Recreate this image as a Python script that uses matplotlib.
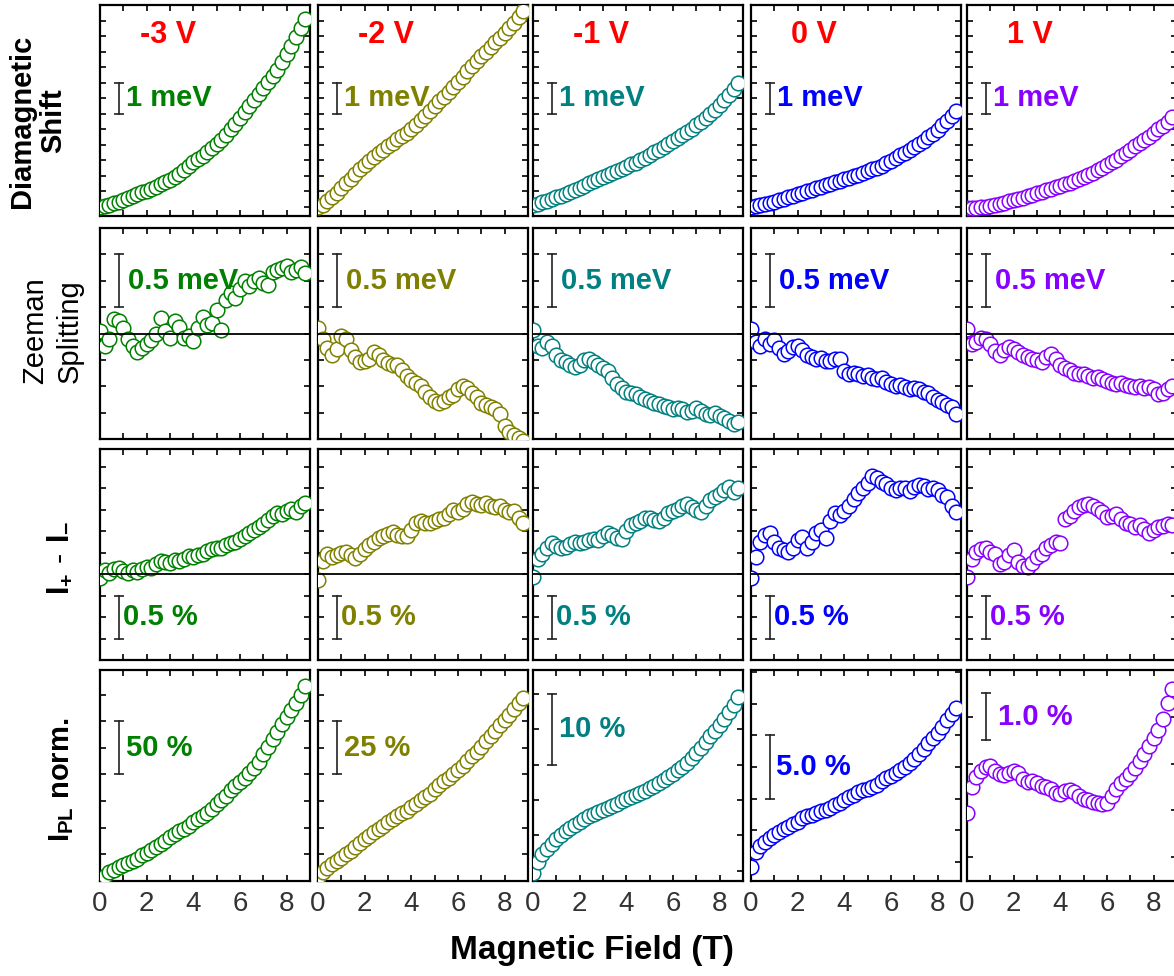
import matplotlib.pyplot as plt
from matplotlib.ticker import MultipleLocator

plt.rcParams['font.family'] = ['Liberation Sans', 'DejaVu Sans']
plt.rcParams['mathtext.fontset'] = 'custom'
plt.rcParams['mathtext.rm'] = 'Liberation Sans'
plt.rcParams['mathtext.bf'] = 'Liberation Sans:bold'

# gate voltages (one column each) and their colours
voltages = ['-3 V', '-2 V', '-1 V', '0 V', '1 V']
colors = ['#008000', '#808000', '#008080', '#0000ff', '#8800ff']

# magnetic field sweep (T)
field = [0.0, 0.2, 0.4, 0.6, 0.8, 1.0, 1.2, 1.4, 1.6, 1.8, 2.0, 2.2, 2.4, 2.6, 2.8,
         3.0, 3.2, 3.4, 3.6, 3.8, 4.0, 4.2, 4.4, 4.6, 4.8, 5.0, 5.2, 5.4, 5.6, 5.8,
         6.0, 6.2, 6.4, 6.6, 6.8, 7.0, 7.2, 7.4, 7.6, 7.8, 8.0, 8.2, 8.4, 8.6, 8.8]

# diamagnetic shift (meV)
dia_m3 = [0.00, 0.03, 0.07, 0.11, 0.16, 0.22, 0.28, 0.34, 0.40, 0.46, 0.52, 0.58, 0.65, 0.72, 0.79,
          0.86, 0.95, 1.05, 1.18, 1.30, 1.43, 1.53, 1.64, 1.76, 1.88, 2.01, 2.15, 2.32, 2.50, 2.68,
          2.86, 3.05, 3.25, 3.45, 3.64, 3.83, 4.02, 4.21, 4.42, 4.66, 4.92, 5.18, 5.46, 5.75, 6.05]
dia_m2 = [0.00, 0.05, 0.18, 0.30, 0.45, 0.60, 0.75, 0.90, 1.05, 1.20, 1.33, 1.46, 1.59, 1.72, 1.84,
          1.95, 2.06, 2.17, 2.28, 2.39, 2.50, 2.64, 2.78, 2.93, 3.10, 3.25, 3.40, 3.55, 3.70, 3.86,
          4.02, 4.19, 4.37, 4.54, 4.70, 4.85, 5.00, 5.15, 5.30, 5.45, 5.60, 5.75, 5.92, 6.12, 6.32]
dia_m1 = [0.05, 0.10, 0.14, 0.19, 0.24, 0.30, 0.36, 0.42, 0.48, 0.55, 0.61, 0.68, 0.75, 0.82, 0.89,
          0.95, 1.01, 1.08, 1.15, 1.22, 1.29, 1.36, 1.42, 1.49, 1.57, 1.66, 1.75, 1.84, 1.93, 2.02,
          2.12, 2.21, 2.30, 2.40, 2.51, 2.62, 2.74, 2.86, 2.99, 3.13, 3.28, 3.44, 3.61, 3.80, 4.00]
dia_0 = [0.00, 0.02, 0.05, 0.08, 0.11, 0.16, 0.20, 0.25, 0.30, 0.35, 0.40, 0.45, 0.50, 0.55, 0.60,
         0.65, 0.69, 0.74, 0.79, 0.84, 0.88, 0.93, 0.98, 1.03, 1.08, 1.14, 1.20, 1.26, 1.32, 1.40,
         1.48, 1.56, 1.65, 1.74, 1.83, 1.92, 2.02, 2.12, 2.23, 2.35, 2.48, 2.62, 2.77, 2.93, 3.10]
dia_p1 = [-0.05, -0.04, -0.03, -0.02, 0.00, 0.02, 0.05, 0.09, 0.13, 0.17, 0.21, 0.25, 0.29, 0.33, 0.38,
          0.43, 0.48, 0.53, 0.57, 0.62, 0.67, 0.72, 0.77, 0.82, 0.88, 0.95, 1.02, 1.10, 1.18, 1.26,
          1.34, 1.43, 1.52, 1.62, 1.72, 1.83, 1.94, 2.05, 2.16, 2.26, 2.37, 2.49, 2.61, 2.74, 2.88]

# Zeeman splitting (meV)
zee_m3 = [0.02, -0.12, -0.05, 0.14, 0.12, 0.05, -0.05, -0.12, -0.18, -0.14, -0.10, -0.06, 0.00, 0.15, 0.02,
          -0.04, 0.12, 0.06, -0.04, -0.02, -0.07, 0.05, 0.16, 0.08, 0.10, 0.22, 0.03, 0.32, 0.38, 0.34,
          0.42, 0.50, 0.45, 0.50, 0.53, 0.48, 0.46, 0.58, 0.60, 0.62, 0.64, 0.58, 0.60, 0.63, 0.57]
zee_m2 = [0.05, -0.05, -0.14, -0.20, -0.15, -0.02, -0.05, -0.16, -0.22, -0.27, -0.26, -0.24, -0.18, -0.20, -0.25,
          -0.28, -0.30, -0.30, -0.35, -0.40, -0.44, -0.47, -0.50, -0.55, -0.60, -0.64, -0.66, -0.64, -0.60, -0.58,
          -0.53, -0.50, -0.52, -0.56, -0.60, -0.66, -0.68, -0.70, -0.72, -0.76, -0.88, -0.93, -0.96, -0.99, -1.02]
zee_m1 = [0.03, -0.12, -0.14, -0.08, -0.12, -0.20, -0.25, -0.27, -0.30, -0.32, -0.30, -0.25, -0.24, -0.27, -0.30,
          -0.33, -0.36, -0.42, -0.48, -0.52, -0.55, -0.56, -0.57, -0.60, -0.62, -0.64, -0.66, -0.67, -0.69, -0.70,
          -0.72, -0.71, -0.72, -0.74, -0.73, -0.71, -0.73, -0.76, -0.77, -0.75, -0.78, -0.80, -0.83, -0.86, -0.84]
zee_0 = [0.04, -0.08, -0.12, -0.05, -0.10, -0.06, -0.14, -0.19, -0.17, -0.13, -0.12, -0.16, -0.20, -0.22, -0.24,
         -0.23, -0.26, -0.26, -0.24, -0.24, -0.36, -0.38, -0.37, -0.38, -0.40, -0.39, -0.42, -0.43, -0.42, -0.46,
         -0.48, -0.50, -0.49, -0.51, -0.53, -0.52, -0.53, -0.55, -0.56, -0.60, -0.63, -0.65, -0.68, -0.70, -0.76]
zee_p1 = [0.04, -0.10, -0.08, -0.04, -0.05, -0.10, -0.17, -0.20, -0.16, -0.13, -0.15, -0.18, -0.20, -0.22, -0.24,
          -0.25, -0.27, -0.22, -0.19, -0.24, -0.30, -0.33, -0.35, -0.37, -0.38, -0.38, -0.40, -0.42, -0.41, -0.43,
          -0.45, -0.47, -0.48, -0.47, -0.49, -0.50, -0.51, -0.50, -0.52, -0.51, -0.53, -0.57, -0.56, -0.53, -0.50]

# circular polarisation degree I+ - I- (%)
pol_m3 = [-0.04, 0.05, 0.02, 0.06, 0.07, 0.04, 0.02, 0.05, 0.03, 0.06, 0.08, 0.07, 0.12, 0.16, 0.14,
          0.13, 0.17, 0.15, 0.18, 0.21, 0.20, 0.22, 0.24, 0.27, 0.29, 0.31, 0.30, 0.34, 0.36, 0.38,
          0.41, 0.44, 0.48, 0.52, 0.55, 0.59, 0.63, 0.68, 0.71, 0.70, 0.74, 0.76, 0.73, 0.80, 0.83]
pol_m2 = [-0.07, 0.15, 0.24, 0.20, 0.22, 0.25, 0.26, 0.22, 0.19, 0.24, 0.29, 0.34, 0.38, 0.42, 0.45,
          0.47, 0.49, 0.46, 0.44, 0.45, 0.52, 0.60, 0.62, 0.60, 0.60, 0.62, 0.64, 0.66, 0.70, 0.75,
          0.72, 0.76, 0.82, 0.84, 0.82, 0.81, 0.83, 0.80, 0.78, 0.79, 0.75, 0.72, 0.74, 0.66, 0.60]
pol_m1 = [-0.03, 0.18, 0.24, 0.30, 0.36, 0.33, 0.30, 0.32, 0.35, 0.37, 0.36, 0.38, 0.40, 0.41, 0.40,
          0.44, 0.48, 0.46, 0.42, 0.41, 0.50, 0.57, 0.60, 0.62, 0.65, 0.66, 0.63, 0.62, 0.66, 0.71,
          0.74, 0.76, 0.80, 0.82, 0.78, 0.75, 0.73, 0.80, 0.86, 0.90, 0.93, 0.98, 1.02, 0.96, 1.00]
pol_0 = [-0.04, 0.20, 0.38, 0.46, 0.48, 0.38, 0.31, 0.28, 0.26, 0.30, 0.40, 0.43, 0.31, 0.38, 0.48,
         0.51, 0.42, 0.62, 0.71, 0.69, 0.74, 0.80, 0.88, 0.95, 1.00, 1.06, 1.14, 1.12, 1.07, 1.05,
         1.00, 0.98, 1.01, 1.00, 0.97, 1.02, 1.04, 1.03, 0.99, 1.00, 0.98, 0.92, 0.90, 0.80, 0.72]
pol_p1 = [-0.03, 0.18, 0.26, 0.29, 0.31, 0.26, 0.24, 0.12, 0.14, 0.22, 0.28, 0.14, 0.10, 0.08, 0.13,
          0.20, 0.24, 0.30, 0.34, 0.38, 0.36, 0.64, 0.68, 0.74, 0.78, 0.81, 0.82, 0.80, 0.76, 0.72,
          0.67, 0.68, 0.70, 0.64, 0.60, 0.58, 0.55, 0.57, 0.53, 0.48, 0.52, 0.55, 0.56, 0.58, 0.57]

# normalised PL intensity change (%)
pl_m3 = [2, 5, 8, 10, 13, 15, 17, 19, 21, 24, 26, 29, 32, 35, 38,
         41, 44, 47, 49, 52, 55, 58, 61, 64, 68, 72, 76, 80, 85, 89,
         93, 97, 101, 106, 112, 119, 126, 133, 140, 147, 154, 160, 167, 175, 183]
pl_m2 = [2, 4, 6, 8, 9.5, 11, 12.5, 14, 16, 18, 19.5, 21, 23, 24.5, 26,
         27.5, 29, 30.5, 32, 33, 34.5, 36, 38, 39.5, 41, 43, 45, 47, 48.5, 50,
         52, 54, 56.5, 58.5, 60.5, 63, 65.5, 68, 70.5, 73, 75.5, 78, 80.5, 83.5, 86]
pl_m1 = [-0.3, 1.2, 2.3, 3.1, 3.8, 4.5, 5.1, 5.6, 6.0, 6.5, 6.9, 7.3, 7.7, 8.0, 8.3,
         8.6, 8.9, 9.2, 9.5, 9.8, 10.1, 10.4, 10.7, 11.0, 11.3, 11.7, 12.0, 12.4, 12.8, 13.2,
         13.7, 14.2, 14.7, 15.3, 15.9, 16.6, 17.4, 18.2, 19.0, 19.8, 20.6, 21.5, 22.5, 23.5, 24.6]
pl_0 = [-0.4, 0.8, 1.3, 1.6, 1.9, 2.1, 2.4, 2.6, 2.8, 3.0, 3.2, 3.5, 3.6, 3.7, 3.9,
        4.0, 4.1, 4.3, 4.5, 4.7, 4.9, 5.1, 5.3, 5.5, 5.7, 5.8, 5.9, 6.1, 6.4, 6.6,
        6.8, 7.0, 7.3, 7.5, 7.8, 8.1, 8.5, 8.9, 9.4, 9.8, 10.2, 10.7, 11.2, 11.7, 12.2]
pl_p1 = [0.95, 1.50, 1.72, 1.85, 1.92, 1.94, 1.85, 1.78, 1.76, 1.80, 1.84, 1.80, 1.68, 1.60, 1.62,
         1.58, 1.52, 1.50, 1.45, 1.38, 1.36, 1.42, 1.44, 1.40, 1.30, 1.25, 1.22, 1.18, 1.15, 1.14,
         1.16, 1.30, 1.45, 1.58, 1.68, 1.78, 1.90, 2.05, 2.20, 2.38, 2.55, 2.72, 2.95, 3.30, 3.60]

# scale bar sizes and their labels
dia_bar = [1.0, 1.0, 1.0, 1.0, 1.0]
dia_bar_text = ['1 meV'] * 5
zee_bar = [0.5, 0.5, 0.5, 0.5, 0.5]
zee_bar_text = ['0.5 meV'] * 5
pol_bar = [0.5, 0.5, 0.5, 0.5, 0.5]
pol_bar_text = ['0.5 %'] * 5
pl_bar = [50, 25, 10, 5.0, 1.0]
pl_bar_text = ['50 %', '25 %', '10 %', '5.0 %', '1.0 %']

# panel rows: data, y range, tick step, scale bar start, label x
rows = [
    dict(data=[dia_m3, dia_m2, dia_m1, dia_0, dia_p1],
         ylim=[(-0.3, 6.5)] * 5, step=[0.5] * 5, bar0=[3.0] * 5,
         bar=dia_bar, text=dia_bar_text, tx=[1.1] * 5, zero=False),
    dict(data=[zee_m3, zee_m2, zee_m1, zee_0, zee_p1],
         ylim=[(-1.0, 1.0)] * 5, step=[0.25] * 5, bar0=[0.25] * 5,
         bar=zee_bar, text=zee_bar_text, tx=[1.2] * 5, zero=True),
    dict(data=[pol_m3, pol_m2, pol_m1, pol_0, pol_p1],
         ylim=[(-1.0, 1.46)] * 5, step=[0.25] * 5, bar0=[-0.75] * 5,
         bar=pol_bar, text=pol_bar_text, tx=[1.0] * 5, zero=True),
    dict(data=[pl_m3, pl_m2, pl_m1, pl_0, pl_p1],
         ylim=[(0, 198), (0, 99), (-1.46, 28.4), (-1.5, 15.17), (-0.51, 4.0)],
         step=[25, 12.5, 5, 2.5, 1.0], bar0=[100, 50, 15, 5.0, 2.5],
         bar=pl_bar, text=pl_bar_text, tx=[1.1, 1.1, 1.1, 1.05, 1.35], zero=False),
]

W, H = 1174, 976
fig = plt.figure(figsize=(W / 100, H / 100), dpi=100)
col_left = [100, 318, 533, 751, 967]
row_top = [5, 228, 449, 670]
pw, ph = 210, 211

for r, row in enumerate(rows):
    for c in range(5):
        ax = fig.add_axes([col_left[c] / W, 1 - (row_top[r] + ph) / H, pw / W, ph / H])
        if row['zero']:
            ax.axhline(0, color='k', lw=1.3, zorder=4)
        ax.plot(field, row['data'][c], 'o', ms=10.5, mfc='white', mec=colors[c], mew=1.1,
                zorder=3)
        # vertical scale bar with its size label
        y0 = row['bar0'][c]
        y1 = y0 + row['bar'][c]
        ax.plot([0.8, 0.8], [y0, y1], color='#222222', lw=1.2, marker='_', ms=7, mew=1.2,
                zorder=5)
        ax.text(row['tx'][c], (y0 + y1) / 2, row['text'][c], color=colors[c], fontsize=21,
                fontweight='bold', ha='left', va='center', zorder=6)
        if r == 0:
            ax.text(0.19, 0.858, voltages[c], color='#ff0000', fontsize=22, fontweight='bold',
                    ha='left', va='center', transform=ax.transAxes)
        ax.set_xlim(0, 9.0)
        ax.set_ylim(*row['ylim'][c])
        ax.xaxis.set_major_locator(MultipleLocator(2))
        ax.xaxis.set_minor_locator(MultipleLocator(1))
        ax.yaxis.set_major_locator(MultipleLocator(row['step'][c]))
        ax.tick_params(which='both', direction='in', top=True, right=True, length=4.5,
                       width=1.2, labelleft=False, labelbottom=(r == 3), labelsize=20,
                       labelcolor='#333333', pad=7)
        for sp in ax.spines.values():
            sp.set_linewidth(1.6)

fig.text(38 / W, 1 - 121 / H, 'Diamagnetic\nShift', rotation=90, ha='center', va='center',
         fontsize=21, fontweight='bold', multialignment='center', linespacing=1.15)
fig.text(52 / W, 1 - 331 / H, 'Zeeman\nSplitting', rotation=90, ha='center', va='center',
         fontsize=21, multialignment='center', linespacing=1.3)
fig.text(60 / W, 1 - 558 / H, r'$\mathbf{I_{+}\ \text{-}\ I_{-}}$', rotation=90,
         ha='center', va='center', fontsize=22)
fig.text(62 / W, 1 - 780 / H, r'$\mathbf{I_{PL}}$ norm.', rotation=90, ha='center',
         va='center', fontsize=21, fontweight='bold')
fig.text(592 / W, 1 - 950 / H, 'Magnetic Field (T)', ha='center', va='center', fontsize=24,
         fontweight='bold')

fig.savefig('out.png', dpi=100)
